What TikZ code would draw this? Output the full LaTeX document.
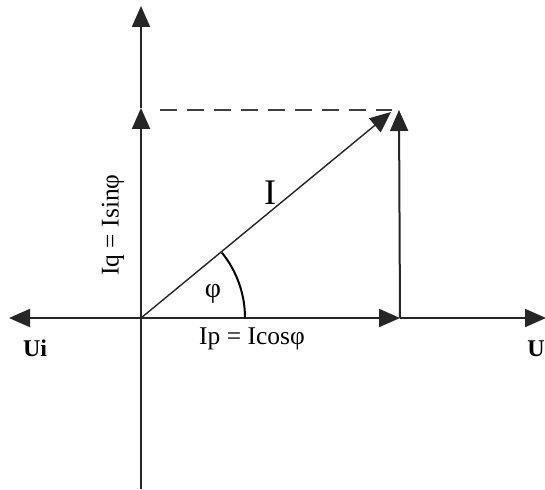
\documentclass[tikz,border=0pt]{standalone}
\usepackage{fontspec}
\setmainfont{Liberation Serif}
\usetikzlibrary{arrows.meta}
\begin{document}
\begin{tikzpicture}[x=1pt,y=-1pt,
  axis/.style={line width=2pt,draw=black!85},
  vec/.style={line width=2pt,draw=black!85,-{Triangle[length=21pt,width=18pt]}},
  thinvec/.style={line width=1.4pt,draw=black!85,-{Triangle[length=21pt,width=18pt]}},
  lbl/.style={font=\fontsize{25.5}{27}\selectfont,inner sep=0pt},
  axlbl/.style={font=\fontsize{24}{26}\selectfont\bfseries,inner sep=0pt}]
\useasboundingbox (0,0) rectangle (545,489);
\fill[white] (0,0) rectangle (545,489);
\coordinate (O) at (141,318);
\coordinate (top) at (141,6);
\coordinate (bot) at (141,489);
\coordinate (L) at (9,318);
\coordinate (R) at (546,318);
\coordinate (Q) at (141,108);
\coordinate (P) at (399,110);
\coordinate (X) at (400,318);
\coordinate (Itip) at (391,112);
\coordinate (Dstart) at (160,110);
\coordinate (Dend) at (392,110);
\coordinate (A0) at (245,318);
% axes
\draw[axis] (bot) -- (O);
\draw[vec] (O) -- (Q);
\draw[vec] (Q) -- (top);
\draw[vec] (O) -- (L);
\draw[vec] (O) -- (X);
\draw[vec] (X) -- (R);
\draw[vec] (X) -- (P);
\draw[thinvec] (O) -- (Itip);
\draw[line width=2pt,draw=black!75,dash pattern=on 17pt off 10pt] (Dstart) -- (Dend);
% angle arc
\draw[line width=2pt] (A0) arc[start angle=0,end angle=38.9,radius=104pt];
% labels
\node[lbl,rotate=90] (iq) at (113,225) {Iq = Isinφ};
\node[lbl] (ip) at (252,339) {Ip = Icosφ};
\node[font=\fontsize{36}{38}\selectfont,inner sep=0pt] (il) at (270,193) {I};
\node[font=\fontsize{28}{30}\selectfont,inner sep=0pt] (phi) at (213,294) {φ};
\node[axlbl] (ui) at (35,348) {Ui};
\node[axlbl,anchor=east] (u) at (545,349) {U};
\end{tikzpicture}
\end{document}
